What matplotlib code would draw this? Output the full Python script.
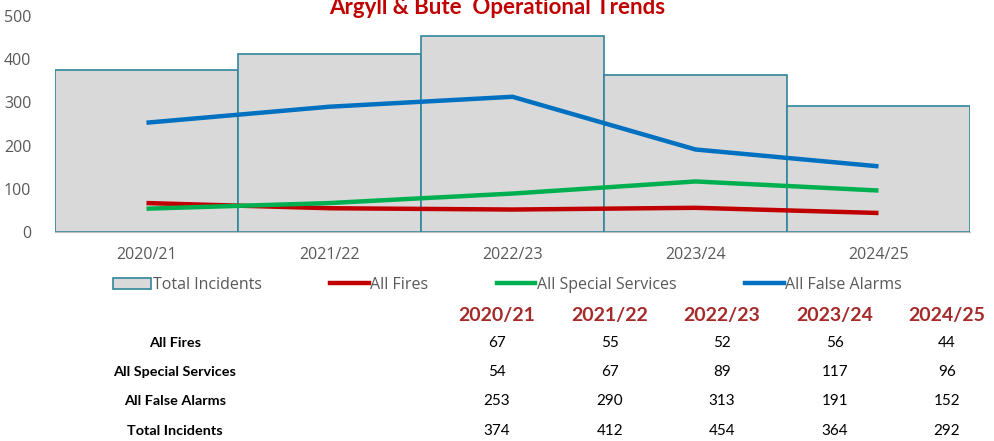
import numpy as np
import matplotlib.pyplot as plt
from matplotlib.patches import Patch
from matplotlib.lines import Line2D

plt.rcParams['font.family'] = ['Lato', 'DejaVu Sans']

years = ["2020/21", "2021/22", "2022/23", "2023/24", "2024/25"]
all_fires = [67, 55, 52, 56, 44]
special_services = [54, 67, 89, 117, 96]
false_alarms = [253, 290, 313, 191, 152]
total_incidents = [374, 412, 454, 364, 292]

fig = plt.figure(figsize=(9.95, 4.41), dpi=100)
ax = fig.add_axes([55/995, 1-232/441, 915/995, 216/441])

x = np.arange(len(years))
ax.bar(x, total_incidents, width=1.0, color="#D9D9D9", edgecolor="#31859C", linewidth=1.2)
ax.plot(x, all_fires, color="#C00000", lw=3.2, solid_capstyle="butt")
ax.plot(x, special_services, color="#00B050", lw=3.2, solid_capstyle="butt")
ax.plot(x, false_alarms, color="#0070C0", lw=3.2, solid_capstyle="butt")

ax.set_xlim(-0.5, len(years) - 0.5)
ax.set_ylim(0, 500)
ax.set_yticks(range(0, 501, 100))
ax.set_xticks(x)
ax.set_xticklabels(years, family="Open Sans")
ax.set_yticklabels([str(v) for v in range(0, 501, 100)], family="Open Sans")
for s in ["top", "right", "left"]:
    ax.spines[s].set_visible(False)
ax.spines["bottom"].set_color("#BFBFBF")
ax.tick_params(axis="both", length=0, labelsize=11.5, colors="#595959")
ax.tick_params(axis="x", pad=11)
ax.tick_params(axis="y", pad=17)

fig.text(0.5, 1 - 7/441, "Argyll & Bute  Operational Trends", ha="center", va="center",
         fontsize=16, fontweight="bold", color="#C00000")

handles = [Patch(facecolor="#D9D9D9", edgecolor="#31859C", linewidth=1.2),
           Line2D([], [], color="#C00000", lw=3.2),
           Line2D([], [], color="#00B050", lw=3.2),
           Line2D([], [], color="#0070C0", lw=3.2)]
labels = ["Total Incidents", "All Fires", "All Special Services", "All False Alarms"]
leg = fig.legend(handles, labels, loc="center", bbox_to_anchor=(0.51, 1 - 285/441), ncol=4,
                 frameon=False, prop={"family": "Open Sans", "size": 11.5},
                 handlelength=2.4, handletextpad=0.1, columnspacing=4.3, labelcolor="#595959")

# table under the chart
col_x = [497, 610, 722, 835, 947]
for cx, yr in zip(col_x, years):
    fig.text(cx/995, 1 - 315/441, yr, ha="center", va="center", fontsize=14,
             fontweight="bold", color="#A52A2A")

rows = [("All Fires", all_fires), ("All Special Services", special_services),
        ("All False Alarms", false_alarms), ("Total Incidents", total_incidents)]
row_y = [343, 372, 401, 431]
for ry, (name, vals) in zip(row_y, rows):
    fig.text(175/995, 1 - ry/441, name, ha="center", va="center", fontsize=10.4,
             fontweight="bold", color="black")
    for cx, v in zip(col_x, vals):
        fig.text(cx/995, 1 - ry/441, str(v), ha="center", va="center", fontsize=11, color="black")

fig.savefig("out.png", dpi=100)
